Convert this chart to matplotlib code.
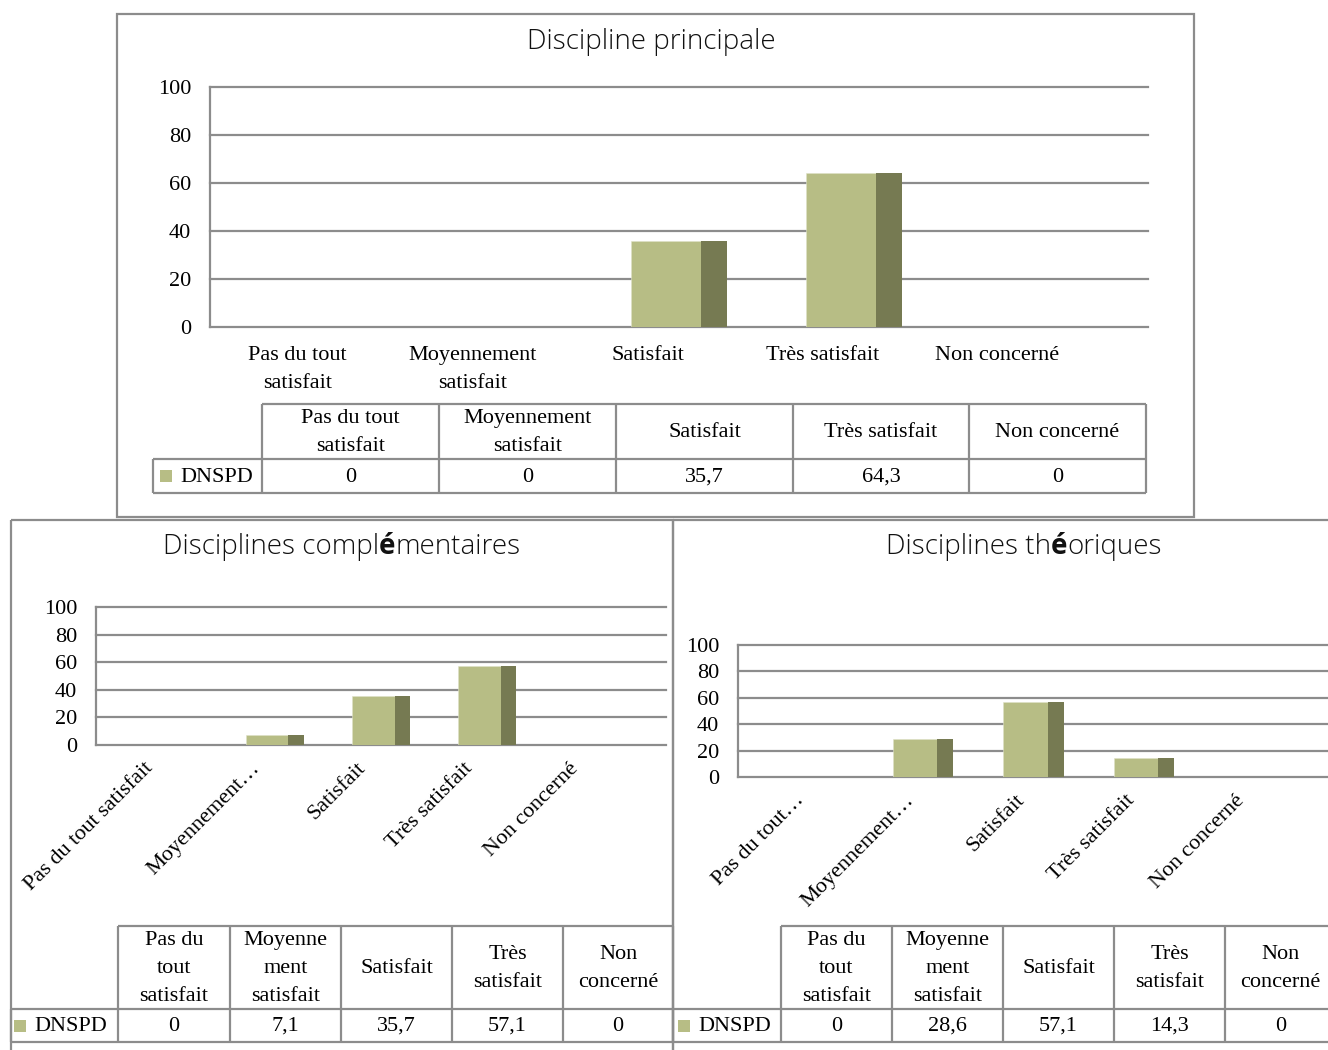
import numpy as np
import matplotlib
matplotlib.use("Agg")
import matplotlib.pyplot as plt
from matplotlib.lines import Line2D
from matplotlib.patches import Rectangle

# ---------------- data ----------------
series_name = "DNSPD"
categories_main_axis = ["Pas du tout\nsatisfait", "Moyennement\nsatisfait", "Satisfait",
                        "Très satisfait", "Non concerné"]
categories_compl_axis = ["Pas du tout satisfait", "Moyennement…", "Satisfait",
                         "Très satisfait", "Non concerné"]
categories_theo_axis = ["Pas du tout…", "Moyennement…", "Satisfait",
                        "Très satisfait", "Non concerné"]
table_header_main = ["Pas du tout\nsatisfait", "Moyennement\nsatisfait", "Satisfait",
                     "Très satisfait", "Non concerné"]
table_header_small = ["Pas du\ntout\nsatisfait", "Moyenne\nment\nsatisfait", "Satisfait",
                      "Très\nsatisfait", "Non\nconcerné"]
values_main = [0, 0, 35.7, 64.3, 0]
values_compl = [0, 7.1, 35.7, 57.1, 0]
values_theo = [0, 28.6, 57.1, 14.3, 0]
y_ticks = [0, 20, 40, 60, 80, 100]
title_main = [("Discipline principale", "light")]
title_compl = [("Disciplines compl", "light"), ("é", "bold"), ("mentaires", "light")]
title_theo = [("Disciplines th", "light"), ("é", "bold"), ("oriques", "light")]

# ---------------- style ----------------
W, H = 1328, 1050
FRONT = "#b7bd85"
SIDE = "#767a52"
GRID = "#8c8c8c"
SERIF = ["Liberation Serif", "DejaVu Serif"]
SANS = ["Open Sans", "Lato", "DejaVu Sans"]
FS = 16
LS = 1.62

fig = plt.figure(figsize=(W / 100, H / 100), dpi=100)
fig.patch.set_facecolor("white")

ov = fig.add_axes([0, 0, 1, 1])
ov.set_xlim(0, W)
ov.set_ylim(H, 0)
ov.axis("off")
ov.patch.set_alpha(0)


def hline(x0, x1, y, lw=1.6, color=GRID):
    ov.add_line(Line2D([x0, x1], [y, y], color=color, lw=lw, solid_capstyle="butt"))


def vline(x, y0, y1, lw=1.6, color=GRID):
    ov.add_line(Line2D([x, x], [y0, y1], color=color, lw=lw, solid_capstyle="butt"))


def box(x0, y0, x1, y1):
    ov.add_patch(Rectangle((x0, y0), x1 - x0, y1 - y0, fill=False,
                           edgecolor=GRID, lw=1.6, clip_on=False))


def title(parts, xc, y, size=20):
    renderer = fig.canvas.get_renderer()
    texts = []
    for s, w in parts:
        t = ov.text(0, y, s, fontsize=size, family=SANS, fontweight=w,
                    ha="left", va="center", color="#111111")
        texts.append(t)
    widths = [t.get_window_extent(renderer).width for t in texts]
    total = sum(widths)
    x = xc - total / 2
    for t, wd in zip(texts, widths):
        t.set_x(x)
        x += wd


def chart(x0, x1, ytop, ybot, values, labels, rotated, xoff, pad):
    ax = fig.add_axes([x0 / W, 1 - ybot / H, (x1 - x0) / W, (ybot - ytop) / H])
    ax.patch.set_alpha(0)
    ax.set_xlim(-0.68, 4.68)
    ax.set_ylim(0, 100)
    for s in ["top", "right", "bottom"]:
        ax.spines[s].set_visible(False)
    ax.spines["left"].set_color(GRID)
    ax.spines["left"].set_linewidth(1.6)
    for v in y_ticks:
        ax.axhline(v, color=GRID, lw=1.6, clip_on=False, zorder=1)
    pos = np.arange(len(values))
    ax.bar(pos - 0.0725, values, width=0.4, color=FRONT, zorder=3,
           edgecolor="#dfe2c8", linewidth=0.4)
    ax.bar(pos + 0.2, values, width=0.145, color=SIDE, zorder=3, linewidth=0)
    ax.set_yticks(y_ticks)
    ax.set_yticklabels([str(v) for v in y_ticks], fontsize=FS, family=SERIF)
    ax.tick_params(axis="y", length=0, pad=13.5)
    ax.set_xticks(pos + xoff)
    if rotated:
        ax.set_xticklabels(labels, fontsize=FS, family=SERIF, rotation=45,
                           ha="right", rotation_mode="anchor")
    else:
        ax.set_xticklabels(labels, fontsize=FS, family=SERIF, linespacing=LS)
    ax.tick_params(axis="x", length=0, pad=pad)
    return ax


def fmt(v):
    return ("%g" % v).replace(".", ",")


def table(xe, yt, ym, yb, headers, values, leg_dx):
    hline(xe[1], xe[-1], yt)
    hline(xe[0], xe[-1], ym)
    hline(xe[0], xe[-1], yb)
    for x in xe[1:]:
        vline(x, yt, yb)
    vline(xe[0], ym, yb)
    for i, (h, v) in enumerate(zip(headers, values)):
        xc = (xe[i + 1] + xe[i + 2]) / 2
        ov.text(xc, (yt + ym) / 2 + 1, h, fontsize=FS, family=SERIF, ha="center",
                va="center", linespacing=LS, multialignment="center")
        ov.text(xc, (ym + yb) / 2 + 1, fmt(v), fontsize=FS, family=SERIF,
                ha="center", va="center")
    yc = (ym + yb) / 2
    ov.add_patch(Rectangle((xe[0] + leg_dx - 20, yc - 6), 12, 12, color=FRONT, lw=0))
    ov.text(xe[0] + leg_dx, yc + 1, series_name, fontsize=FS, family=SERIF,
            ha="left", va="center")


# ---------------- boxes ----------------
box(117, 14, 1194, 517)
box(11, 520, 673, 1070)
box(673, 520, 1375, 1070)

# ---------------- titles ----------------
title(title_main, 651, 42)
title(title_compl, 342, 547)
title(title_theo, 1024, 547)

# ---------------- charts ----------------
chart(210, 1148, 87, 327, values_main, categories_main_axis, False, -0.18, 14)
chart(96, 666, 607, 745, values_compl, categories_compl_axis, True, -0.23, 10)
chart(738, 1329, 645, 777, values_theo, categories_theo_axis, True, -0.17, 10)

# ---------------- tables ----------------
table([153, 262, 439, 616, 793, 969, 1146], 404, 459, 493,
      table_header_main, values_main, 27)
table([11, 118, 230, 341, 452, 563, 673], 926, 1009, 1042,
      table_header_small, values_compl, 23)
table([673, 781, 892, 1003, 1114, 1225, 1336], 926, 1009, 1042,
      table_header_small, values_theo, 25)

fig.savefig("out.png", dpi=100, facecolor="white")
